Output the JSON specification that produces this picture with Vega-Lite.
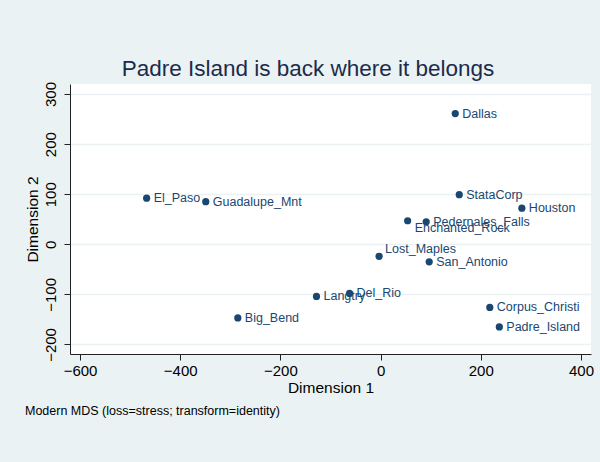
{
  "$schema": "https://vega.github.io/schema/vega-lite/v6.json",
  "width": 521,
  "height": 270,
  "autosize": {"type": "none"},
  "padding": {"left": 70, "top": 84, "right": 9, "bottom": 108},
  "background": "#eaf2f3",
  "view": {"fill": "white", "stroke": null},
  "config": {"font": "Liberation Sans"},
  "title": {
    "text": "Modern MDS (loss=stress; transform=identity)",
    "orient": "bottom",
    "anchor": "start",
    "frame": "bounds",
    "fontSize": 12.5,
    "fontWeight": "normal",
    "color": "#000000",
    "offset": 9
  },
  "data": {
    "values": [
      {"name": "Dallas", "dim1": 149, "dim2": 261},
      {"name": "StataCorp", "dim1": 157, "dim2": 99},
      {"name": "Houston", "dim1": 282, "dim2": 72},
      {"name": "Pedernales_Falls", "dim1": 91, "dim2": 45},
      {"name": "Enchanted_Rock", "dim1": 54, "dim2": 47},
      {"name": "Lost_Maples", "dim1": -3, "dim2": -24},
      {"name": "San_Antonio", "dim1": 97, "dim2": -35},
      {"name": "El_Paso", "dim1": -467, "dim2": 92},
      {"name": "Guadalupe_Mnt", "dim1": -349, "dim2": 85},
      {"name": "Del_Rio", "dim1": -62, "dim2": -98},
      {"name": "Langtry", "dim1": -128, "dim2": -104},
      {"name": "Big_Bend", "dim1": -285, "dim2": -147},
      {"name": "Corpus_Christi", "dim1": 218, "dim2": -126},
      {"name": "Padre_Island", "dim1": 237, "dim2": -165}
    ]
  },
  "resolve": {"axis": {"x": "independent"}},
  "layer": [
    {
      "mark": {"type": "circle", "size": 52, "opacity": 1, "color": "#1a476f"},
      "encoding": {
        "x": {
          "field": "dim1",
          "type": "quantitative",
          "scale": {"domain": [-620, 420], "nice": false, "zero": false},
          "axis": {
            "title": "Dimension 1",
            "values": [-600, -400, -200, 0, 200, 400],
            "grid": false,
            "domainColor": "#222222",
            "tickColor": "#222222",
            "tickSize": 6,
            "labelFontSize": 15,
            "labelColor": "#000000",
            "labelPadding": 3,
            "titleFontSize": 15.5,
            "titleFontWeight": "normal",
            "titleColor": "#000000",
            "titlePadding": 2
          }
        },
        "y": {
          "field": "dim2",
          "type": "quantitative",
          "scale": {"domain": [-219, 320], "nice": false, "zero": false},
          "axis": {
            "title": "Dimension 2",
            "values": [-200, -100, 0, 100, 200, 300],
            "grid": true,
            "gridColor": "#eaf2f3",
            "gridWidth": 1.5,
            "domainColor": "#222222",
            "tickColor": "#222222",
            "tickSize": 6,
            "labelFontSize": 15,
            "labelColor": "#000000",
            "labelAngle": -90,
            "labelAlign": "center",
            "labelBaseline": "alphabetic",
            "labelPadding": 9,
            "titleFontSize": 15.5,
            "titleFontWeight": "normal",
            "titleColor": "#000000",
            "titlePadding": 3
          }
        }
      }
    },
    {
      "transform": [{"filter": "datum.name != 'Lost_Maples' && datum.name != 'Enchanted_Rock'"}],
      "mark": {"type": "text", "align": "left", "baseline": "middle", "dx": 7, "fontSize": 12.5, "color": "#1a476f"},
      "encoding": {
        "x": {
          "field": "dim1",
          "type": "quantitative",
          "axis": {
            "orient": "top",
            "title": "Padre Island is back where it belongs",
            "domain": false,
            "ticks": false,
            "labels": false,
            "grid": false,
            "titleFontSize": 22.5,
            "titleFontWeight": "normal",
            "titleColor": "#1c2b4b",
            "titleAlign": "center",
            "titleBaseline": "alphabetic",
            "titleX": 237.5,
            "titleY": -9
          }
        },
        "y": {"field": "dim2", "type": "quantitative"},
        "text": {"field": "name"}
      }
    },
    {
      "transform": [{"filter": "datum.name == 'Lost_Maples'"}],
      "mark": {"type": "text", "align": "left", "baseline": "middle", "dx": 6, "dy": -7, "fontSize": 12.5, "color": "#1a476f"},
      "encoding": {
        "x": {"field": "dim1", "type": "quantitative", "axis": null},
        "y": {"field": "dim2", "type": "quantitative"},
        "text": {"field": "name"}
      }
    },
    {
      "transform": [{"filter": "datum.name == 'Enchanted_Rock'"}],
      "mark": {"type": "text", "align": "left", "baseline": "middle", "dx": 7, "dy": 7, "fontSize": 12.5, "color": "#1a476f"},
      "encoding": {
        "x": {"field": "dim1", "type": "quantitative", "axis": null},
        "y": {"field": "dim2", "type": "quantitative"},
        "text": {"field": "name"}
      }
    }
  ]
}
